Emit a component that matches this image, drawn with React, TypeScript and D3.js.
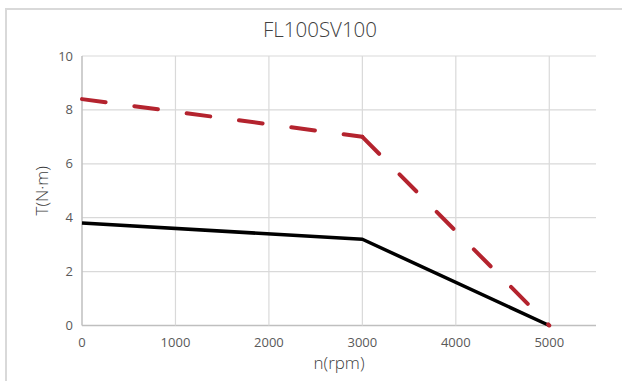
import React from "react";
import * as d3 from "d3";

const title = "FL100SV100";
const xLabel = "n(rpm)";
const yLabel = "T(N·m)";
const speed = [0, 3000, 5000];
const peakTorque = [8.4, 7.0, 0];
const ratedTorque = [3.8, 3.2, 0];
const xTicks = [0, 1000, 2000, 3000, 4000, 5000];
const yTicks = [0, 2, 4, 6, 8, 10];

const W = 622;
const H = 381;
const left = 82;
const right = 596;
const top = 56;
const bottom = 325.5;
const font = "'Open Sans', 'Noto Sans', sans-serif";

export default function App() {
  const x = d3.scaleLinear().domain([0, 5500]).range([left, right]);
  const y = d3.scaleLinear().domain([0, 10]).range([bottom, top]);
  const line = d3
    .line<[number, number]>()
    .x((d) => x(d[0]))
    .y((d) => y(d[1]));

  const ratedPts: [number, number][] = speed.map((s, i) => [s, ratedTorque[i]]);
  const peakPts: [number, number][] = speed.map((s, i) => [s, peakTorque[i]]);
  const peakSegments = d3.pairs(peakPts);

  return (
    <svg
      width={W}
      height={H}
      style={{ position: "absolute", left: 0, top: 0, background: "#fff" }}
    >
      <rect x={6} y={9} width={W + 20} height={H + 20} fill="#fff" stroke="#d9d9d9" strokeWidth={2} />
      <text x={320} y={37} textAnchor="middle" fontFamily={font} fontSize={20.5} fill="#404040" fontWeight={300}>
        {title}
      </text>
      {yTicks.map((t) => (
        <g key={"y" + t}>
          <line x1={left} x2={right} y1={y(t)} y2={y(t)} stroke={t === 0 ? "#bfbfbf" : "#d9d9d9"} strokeWidth={t === 0 ? 1.5 : 1.2} />
          <text x={left - 9} y={y(t) + 4.5} textAnchor="end" fontFamily={font} fontSize={13} fill="#595959">
            {t}
          </text>
        </g>
      ))}
      {xTicks.map((t) => (
        <g key={"x" + t}>
          <line x1={x(t)} x2={x(t)} y1={top} y2={bottom} stroke={t === 0 ? "#bfbfbf" : "#d9d9d9"} strokeWidth={t === 0 ? 1.5 : 1.2} />
          <text x={x(t)} y={bottom + 21} textAnchor="middle" fontFamily={font} fontSize={13} fill="#595959">
            {t}
          </text>
        </g>
      ))}
      <text x={339} y={369} textAnchor="middle" fontFamily={font} fontSize={17} fill="#404040" fontWeight={300}>
        {xLabel}
      </text>
      <text
        transform={`translate(48, ${(top + bottom) / 2}) rotate(-90)`}
        textAnchor="middle"
        fontFamily={font}
        fontSize={17}
        fill="#404040"
        fontWeight={300}
      >
        {yLabel}
      </text>
      <path d={line(ratedPts) || ""} fill="none" stroke="#000" strokeWidth={3.5} strokeLinejoin="round" />
      {peakSegments.map((seg, i) => (
        <path
          key={"p" + i}
          d={line(seg) || ""}
          fill="none"
          stroke="#b4232e"
          strokeWidth={4}
          strokeDasharray="23.8 29"
          strokeLinecap="round"
        />
      ))}
    </svg>
  );
}
